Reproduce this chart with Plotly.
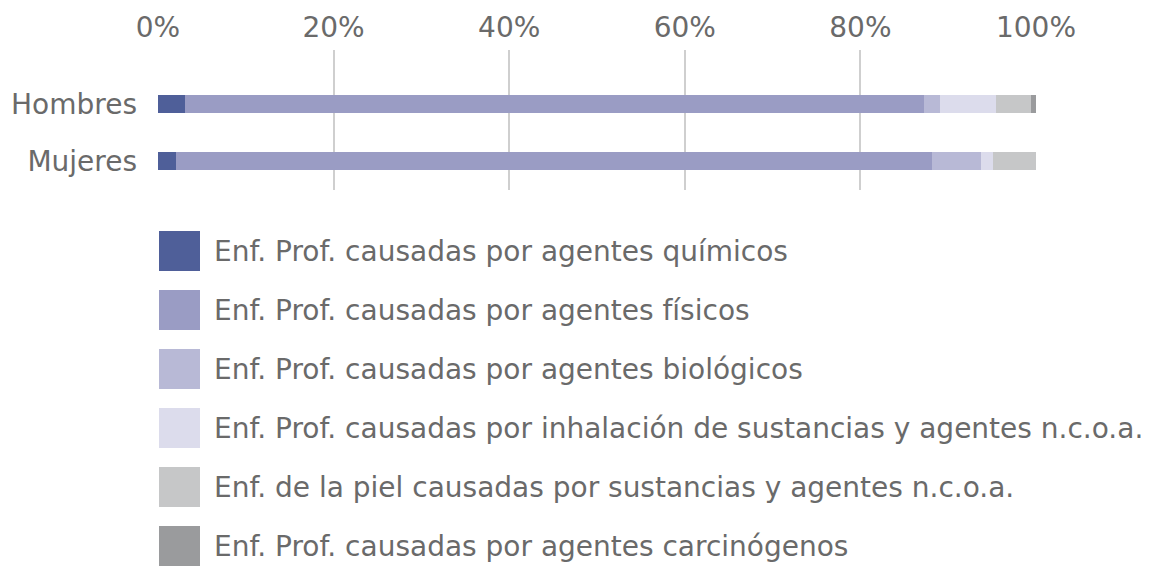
import plotly.graph_objects as go

categories = ["Hombres", "Mujeres"]
series_names = [
    "Enf. Prof. causadas por agentes químicos",
    "Enf. Prof. causadas por agentes físicos",
    "Enf. Prof. causadas por agentes biológicos",
    "Enf. Prof. causadas por inhalación de sustancias y agentes n.c.o.a.",
    "Enf. de la piel causadas por sustancias y agentes n.c.o.a.",
    "Enf. Prof. causadas por agentes carcinógenos",
]
quimicos = [3.1, 2.1]
fisicos = [84.2, 86.1]
biologicos = [1.8, 5.5]
inhalacion = [6.3, 1.4]
piel = [4.0, 4.9]
carcinogenos = [0.6, 0.0]
series_values = [quimicos, fisicos, biologicos, inhalacion, piel, carcinogenos]
colors = ["#4f5f99", "#9a9cc4", "#b8b9d6", "#dcdcec", "#c6c7c8", "#9a9b9d"]
tick_vals = [0, 20, 40, 60, 80, 100]
tick_text = ["0%", "20%", "40%", "60%", "80%", "100%"]

W, H = 1149, 567
OFF = 8  # page body margin
L, R, T, B = 158 - OFF, 1036 - OFF, 50 - OFF, 190 - OFF
FONT = "DejaVu Sans"
FS = 28
FC = "#6a6a6a"

fig = go.Figure()
for name, vals, col in zip(series_names, series_values, colors):
    fig.add_trace(go.Bar(y=categories, x=vals, name=name, orientation="h",
                         marker=dict(color=col, line=dict(width=0)), showlegend=False))

def px(x):
    return (x - OFF - L) / (R - L)

def py(y):
    return (B - (y - OFF)) / (B - T)

# legend drawn manually
row0, step = 251, 59
for i, (name, col) in enumerate(zip(series_names, colors)):
    cy = row0 + i * step
    fig.add_shape(type="rect", xref="paper", yref="paper",
                  x0=px(159), x1=px(200), y0=py(cy - 20), y1=py(cy + 20),
                  fillcolor=col, line=dict(width=0))
    fig.add_annotation(xref="paper", yref="paper", x=px(212), y=py(cy),
                       text=name, showarrow=False, xanchor="left", yanchor="middle",
                       font=dict(size=FS, color=FC, family=FONT))

fig.update_layout(
    width=W, height=H,
    barmode="stack", bargap=0.684,
    margin=dict(l=L, r=W - R, t=T, b=H - B, pad=0, autoexpand=False),
    plot_bgcolor="white", paper_bgcolor="white",
    font=dict(family=FONT, color=FC, size=FS),
    xaxis=dict(side="top", range=[0, 100], tickvals=tick_vals, ticktext=tick_text,
               showgrid=True, gridcolor="#cfcfcf", gridwidth=1.5, zeroline=False,
               showline=False, ticks="", tickfont=dict(size=FS, color=FC),
               ticklabelstandoff=6, fixedrange=True, automargin=False),
    yaxis=dict(range=[1.509, -0.947], showgrid=False, zeroline=False, showline=False,
               ticks="", ticklabelstandoff=20, tickfont=dict(size=FS, color=FC),
               automargin=False),
)

fig.write_html("out.html")
